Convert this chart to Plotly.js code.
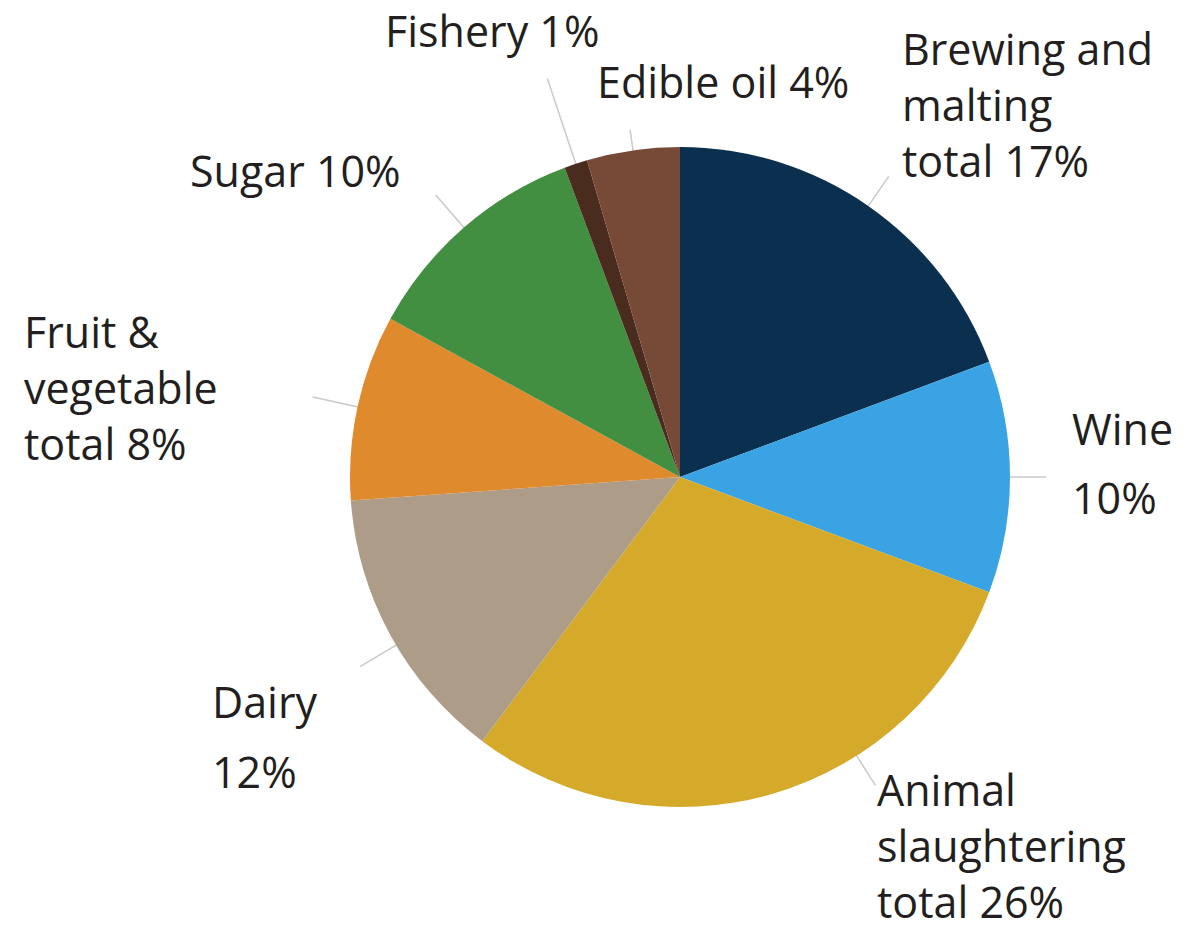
<!DOCTYPE html>
<html>
<head>
<meta charset="utf-8">
<script src="https://cdn.plot.ly/plotly-3.0.1.min.js"></script>
<style>html,body{margin:0;padding:0;background:#fff;}#chart{width:1204px;height:933px;}</style>
</head>
<body>
<div id="chart"></div>
<script>
// ---- data ----
const categories = ["Brewing and malting", "Wine", "Animal slaughtering", "Dairy", "Fruit & vegetable", "Sugar", "Fishery", "Edible oil"];
const values = [17, 10, 26, 12, 8, 10, 1, 4];
const labelLines = [
  ["Brewing and", "malting", "total 17%"],
  ["Wine", "10%"],
  ["Animal", "slaughtering", "total 26%"],
  ["Dairy", "12%"],
  ["Fruit &", "vegetable", "total 8%"],
  ["Sugar 10%"],
  ["Fishery 1%"],
  ["Edible oil 4%"]
];
const colors = ["#0b2f4e", "#3aa3e3", "#d5aa2a", "#ad9c88", "#e08a2e", "#428f42", "#4a2c1e", "#764a36"];

// ---- layout / style ----
const W = 1204, H = 933;
const cx = 680, cy = 477, R = 330;
const FONT = "Open Sans, sans-serif";
const FSIZE = 43;
const TEXTCOL = "#231f20";
// label placement (pixel): left x, centre y of the block, optional wide line gap; leader length & angle tweak
const labelStyle = [
  {x: 900, y: 104, gap: null, len: 36, da: 0},
  {x: 1070, y: 463, gap: 69, len: 36, da: 0},
  {x: 875, y: 845, gap: null, len: 35, da: -16},
  {x: 210, y: 736, gap: 70, len: 42, da: -2},
  {x: 22, y: 387, gap: null, len: 46, da: 0},
  {x: 188, y: 170, gap: null, len: 43, da: 0},
  {x: 383, y: 30, gap: null, len: 90, da: 0},
  {x: 595, y: 82, gap: null, len: 21, da: 0}
];

const total = values.reduce((a, b) => a + b, 0);
const shapes = [];
const annotations = [];
let cum = 0;
function addText(t, x, y) {
  annotations.push({xref: "paper", yref: "paper", x: x / W, y: 1 - y / H,
    xanchor: "left", yanchor: "middle", align: "left", showarrow: false, text: t,
    font: {family: FONT, size: FSIZE, color: TEXTCOL}});
}
values.forEach((v, i) => {
  const st = labelStyle[i];
  const mid = (cum + v / 2) / total * 360 + st.da;
  cum += v;
  const a = mid * Math.PI / 180;
  const r0 = R - 2, r1 = R + st.len;
  const x0 = cx + r0 * Math.sin(a), y0 = cy - r0 * Math.cos(a);
  const x1 = cx + r1 * Math.sin(a), y1 = cy - r1 * Math.cos(a);
  shapes.push({type: "line", xref: "paper", yref: "paper",
    x0: x0 / W, y0: 1 - y0 / H, x1: x1 / W, y1: 1 - y1 / H,
    line: {color: "#c9c9c9", width: 1.5}, layer: "below"});
  const lines = labelLines[i];
  if (st.gap) {
    lines.forEach((t, j) => addText(t, st.x, st.y + (j - (lines.length - 1) / 2) * st.gap));
  } else {
    addText(lines.join("<br>"), st.x, st.y);
  }
});

const trace = {
  type: "pie",
  labels: categories,
  values: values,
  sort: false,
  direction: "clockwise",
  rotation: 0,
  textinfo: "none",
  hoverinfo: "label+value",
  marker: {colors: colors, line: {width: 0}},
  domain: {x: [(cx - R) / W, (cx + R) / W], y: [1 - (cy + R) / H, 1 - (cy - R) / H]},
  showlegend: false
};

Plotly.newPlot("chart", [trace], {
  width: W, height: H,
  margin: {l: 0, r: 0, t: 0, b: 0},
  paper_bgcolor: "#ffffff",
  shapes: shapes,
  annotations: annotations,
  showlegend: false
}, {displayModeBar: false, staticPlot: true});
</script>
</body>
</html>
